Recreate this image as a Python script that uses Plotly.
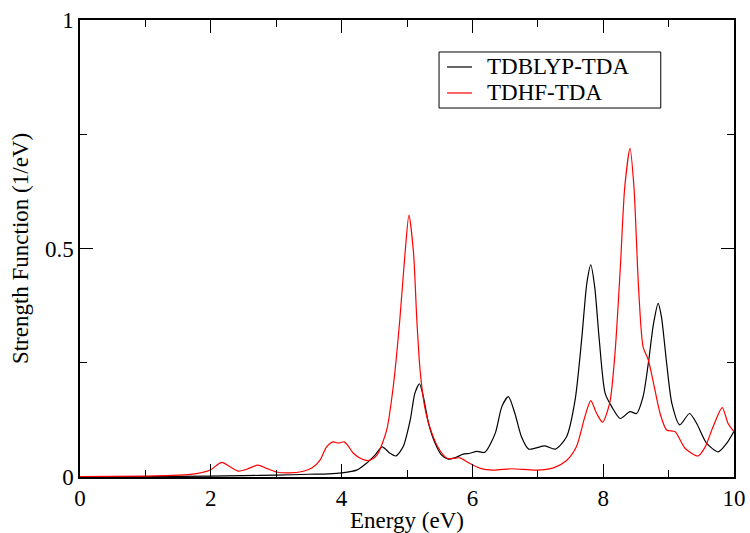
import plotly.graph_objects as go

# Strength function spectra (energy in eV, strength in 1/eV)
energy_blyp = [0, 1, 2, 2.5, 3, 3.5, 3.8, 4.0, 4.23, 4.38, 4.51, 4.62, 4.74, 4.83, 4.94,
               5.05, 5.12, 5.19, 5.25, 5.33, 5.43, 5.53, 5.63, 5.73, 5.86, 5.96, 6.07,
               6.19, 6.35, 6.45, 6.55, 6.65, 6.75, 6.86, 6.96, 7.11, 7.27, 7.44, 7.57,
               7.67, 7.75, 7.81, 7.87, 7.94, 8.03, 8.13, 8.26, 8.41, 8.51, 8.61, 8.69,
               8.77, 8.84, 8.89, 8.97, 9.05, 9.17, 9.32, 9.43, 9.58, 9.76, 9.89, 10.0]
strength_blyp = [0.001, 0.001, 0.002, 0.003, 0.004, 0.006, 0.007, 0.009, 0.015, 0.030,
                 0.048, 0.066, 0.052, 0.046, 0.066, 0.125, 0.183, 0.204, 0.176, 0.117,
                 0.074, 0.048, 0.039, 0.042, 0.050, 0.052, 0.056, 0.054, 0.096, 0.154,
                 0.176, 0.139, 0.088, 0.061, 0.063, 0.068, 0.061, 0.088, 0.168, 0.300,
                 0.424, 0.464, 0.416, 0.300, 0.183, 0.154, 0.128, 0.143, 0.139, 0.176,
                 0.249, 0.336, 0.380, 0.351, 0.249, 0.161, 0.114, 0.139, 0.117, 0.074,
                 0.055, 0.074, 0.100]

energy_hf = [0, 1.0, 1.5, 1.8, 2.0, 2.1, 2.17, 2.3, 2.42, 2.55, 2.72, 2.85, 3.0, 3.2, 3.4,
             3.55, 3.67, 3.77, 3.87, 3.95, 4.04, 4.1, 4.18, 4.3, 4.41, 4.5, 4.56, 4.69,
             4.79, 4.89, 4.97, 5.03, 5.10, 5.15, 5.20, 5.27, 5.38, 5.50, 5.61, 5.73, 5.81,
             5.94, 6.12, 6.32, 6.60, 6.98, 7.24, 7.44, 7.59, 7.72, 7.81, 7.90, 7.99, 8.10,
             8.18, 8.26, 8.33, 8.41, 8.47, 8.54, 8.61, 8.69, 8.77, 8.87, 8.97, 9.10, 9.25,
             9.45, 9.56, 9.68, 9.82, 9.91, 10.0]
strength_hf = [0.001, 0.002, 0.004, 0.008, 0.016, 0.027, 0.032, 0.022, 0.013, 0.017,
               0.026, 0.019, 0.011, 0.009, 0.012, 0.020, 0.037, 0.066, 0.077, 0.074,
               0.077, 0.068, 0.052, 0.040, 0.036, 0.042, 0.052, 0.103, 0.198, 0.344,
               0.490, 0.573, 0.490, 0.344, 0.234, 0.154, 0.096, 0.059, 0.041, 0.041,
               0.042, 0.031, 0.019, 0.015, 0.018, 0.015, 0.020, 0.036, 0.066, 0.132,
               0.167, 0.139, 0.120, 0.162, 0.270, 0.453, 0.635, 0.719, 0.635, 0.416,
               0.285, 0.256, 0.205, 0.139, 0.103, 0.099, 0.063, 0.046, 0.066, 0.110,
               0.152, 0.117, 0.099]

series_names = ["TDBLYP-TDA", "TDHF-TDA"]
series_colors = ["black", "red"]

x_ticks = [0, 2, 4, 6, 8, 10]
y_ticks = [0, 0.5, 1]
y_tick_text = ["0", "0.5", "1"]

SERIF = "Liberation Serif"

fig = go.Figure()
for xs, ys, name, color in zip([energy_blyp, energy_hf], [strength_blyp, strength_hf],
                               series_names, series_colors):
    fig.add_trace(go.Scatter(x=xs, y=ys, mode="lines", name=name, showlegend=False,
                             line=dict(color=color, width=1.2, shape="spline", smoothing=0.7)))

axis_common = dict(showline=True, linecolor="black", linewidth=1.5, mirror="ticks",
                   ticks="inside", ticklen=13, tickwidth=1, tickcolor="black",
                   showgrid=False, zeroline=False, automargin=False,
                   tickfont=dict(family=SERIF, size=23, color="black"))

fig.update_xaxes(range=[0, 10], tickvals=x_ticks,
                 minor=dict(ticks="inside", ticklen=7, dtick=1, tick0=0, tickcolor="black",
                            tickwidth=1, showgrid=False),
                 title=dict(text="Energy (eV)", font=dict(family=SERIF, size=23, color="black"),
                            standoff=6),
                 **axis_common)
fig.update_yaxes(range=[0, 1], tickvals=y_ticks, ticktext=y_tick_text,
                 minor=dict(ticks="inside", ticklen=7, dtick=0.25, tick0=0, tickcolor="black",
                            tickwidth=1, showgrid=False),
                 title=dict(text="Strength Function (1/eV)",
                            font=dict(family=SERIF, size=23, color="black"), standoff=10),
                 **axis_common)

# Boxed legend in the upper right of the plot area
legend_box = dict(x0=0.549, x1=0.888, y0=0.8074, y1=0.930)
legend_rows_y = [0.8972, 0.8403]
legend_line_x = (0.5612, 0.5994)
legend_text_x = 0.620

shapes = [dict(type="rect", xref="paper", yref="paper", line=dict(color="black", width=1),
               fillcolor="white", layer="above", **legend_box)]
annotations = []
for row_y, name, color in zip(legend_rows_y, series_names, series_colors):
    shapes.append(dict(type="line", xref="paper", yref="paper", layer="above",
                       x0=legend_line_x[0], x1=legend_line_x[1], y0=row_y, y1=row_y,
                       line=dict(color=color, width=1.2)))
    annotations.append(dict(text=name, xref="paper", yref="paper", x=legend_text_x, y=row_y,
                            xanchor="left", yanchor="middle", showarrow=False,
                            font=dict(family=SERIF, size=23, color="black")))

fig.update_layout(
    width=750, height=533,
    margin=dict(l=80, r=16, t=20, b=56, autoexpand=False),
    plot_bgcolor="white", paper_bgcolor="white",
    shapes=shapes, annotations=annotations,
)

fig.write_html("out.html")
